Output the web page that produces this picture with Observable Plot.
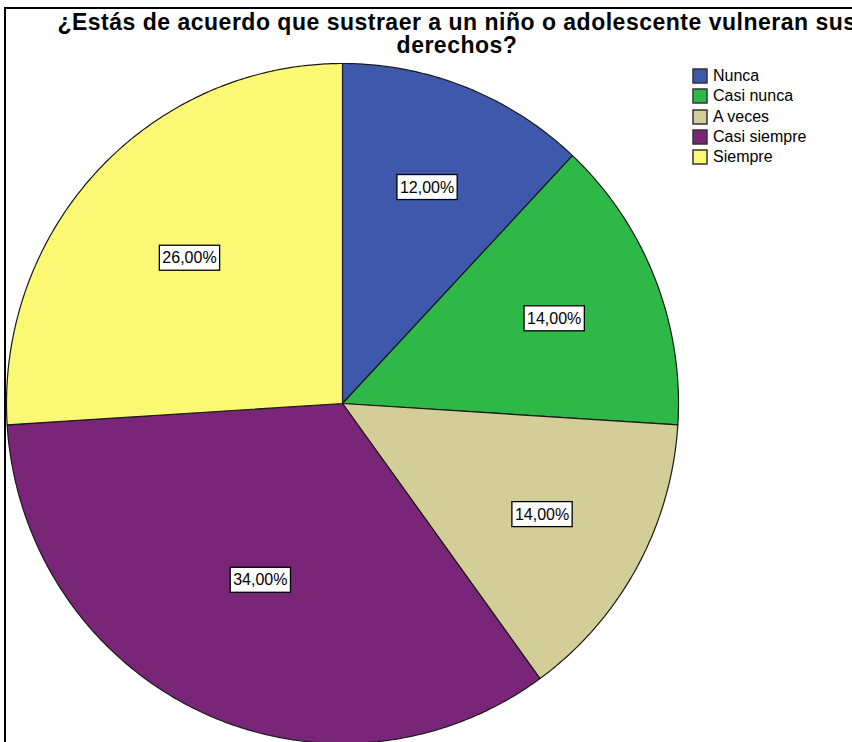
<!DOCTYPE html>
<html><head><meta charset="utf-8">
<script src="https://cdn.jsdelivr.net/npm/d3@7"></script>
<script src="https://cdn.jsdelivr.net/npm/@observablehq/plot@0.6"></script>
<style>
html,body{margin:0;padding:0;background:#fff;width:852px;height:742px;overflow:hidden;font-family:"Liberation Sans",Arial,sans-serif;}
#frame{position:absolute;left:4px;top:7px;width:900px;height:800px;border-left:2px solid #000;border-top:2px solid #000;z-index:10;pointer-events:none;background:transparent;}
#title{position:absolute;left:0;top:11px;width:914px;text-align:center;font:bold 23px "Liberation Sans",Arial,sans-serif;letter-spacing:0.5px;line-height:23px;color:#000;white-space:nowrap;z-index:5;}
#chart{position:absolute;left:0;top:0;}
#legend{position:absolute;left:693px;top:66px;z-index:5;}
#legend > div > div{font:16px "Liberation Sans",Arial,sans-serif;color:#000;height:20.3px;padding-bottom:0;margin:0;}
#legend svg{margin-right:6px !important;}
#legend svg rect{stroke:#333;stroke-width:1.5px;}
</style></head>
<body>
<div id="chart"></div>
<div id="title">¿Estás de acuerdo que sustraer a un niño o adolescente vulneran sus<br>derechos?</div>
<div id="legend"></div>
<div id="frame"></div>
<script>
const categories = ["Nunca", "Casi nunca", "A veces", "Casi siempre", "Siempre"];
const percents = [12, 14, 14, 34, 26];
const labels = ["12,00%", "14,00%", "14,00%", "34,00%", "26,00%"];
const colors = ["#3E58AC", "#2EB848", "#D3CE97", "#7A2678", "#FBF873"];

// build slice polygons (unit circle, clockwise from 12 o'clock)
const slices = [];
const labelPts = [];
let cum = 0;
categories.forEach((c, i) => {
  const a0 = cum / 100 * 2 * Math.PI;
  cum += percents[i];
  const a1 = cum / 100 * 2 * Math.PI;
  slices.push({cat: c, x: 0, y: 0});
  const n = Math.max(2, Math.ceil((a1 - a0) / (Math.PI / 360)));
  for (let k = 0; k <= n; k++) {
    const a = a0 + (a1 - a0) * k / n;
    slices.push({cat: c, x: Math.sin(a), y: Math.cos(a)});
  }
  slices.push({cat: c, x: 0, y: 0});
  const half = (a1 - a0) / 2, mid = a0 + half;
  const d = 1.05 * 2 * Math.sin(half) / (3 * half);
  labelPts.push({label: labels[i], x: d * Math.sin(mid), y: d * Math.cos(mid)});
});

const cx = 342, cy = 403, Rx = 336, Ry = 340;
const chart = Plot.plot({
  width: 852, height: 742,
  marginTop: 0, marginRight: 0, marginBottom: 0, marginLeft: 0,
  x: {domain: [-1, 1], range: [cx - Rx, cx + Rx], axis: null},
  y: {domain: [-1, 1], range: [cy + Ry, cy - Ry], axis: null},
  color: {type: "ordinal", domain: categories, range: colors},
  style: {background: "transparent", overflow: "visible"},
  marks: [
    Plot.line(slices, {x: "x", y: "y", z: "cat", fill: "cat", stroke: "#1a1a1a", strokeWidth: 1.2, curve: "linear"}),
    Plot.text(labelPts, {x: "x", y: "y", text: "label", fill: "#000", fontSize: 16, fontFamily: "Liberation Sans, Arial, sans-serif"})
  ]
});
document.getElementById("chart").appendChild(chart);

// white boxes behind value labels
chart.querySelectorAll('g[aria-label="text"] text').forEach(t => {
  const b = t.getBBox();
  const r = document.createElementNS("http://www.w3.org/2000/svg", "rect");
  r.setAttribute("x", b.x - 3);
  r.setAttribute("y", b.y - 4);
  r.setAttribute("width", b.width + 6);
  r.setAttribute("height", b.height + 8);
  r.setAttribute("fill", "#fff");
  r.setAttribute("stroke", "#000");
  r.setAttribute("stroke-width", "1.3");
  const tr = t.getAttribute("transform");
  if (tr) r.setAttribute("transform", tr);
  t.parentNode.insertBefore(r, t);
});

const legend = Plot.legend({
  color: {type: "ordinal", domain: categories, range: colors},
  legend: "swatches", columns: 1, swatchSize: 14,
  style: {fontSize: "16px", fontFamily: "Liberation Sans, Arial, sans-serif"}
});
document.getElementById("legend").appendChild(legend);
</script>
</body></html>
